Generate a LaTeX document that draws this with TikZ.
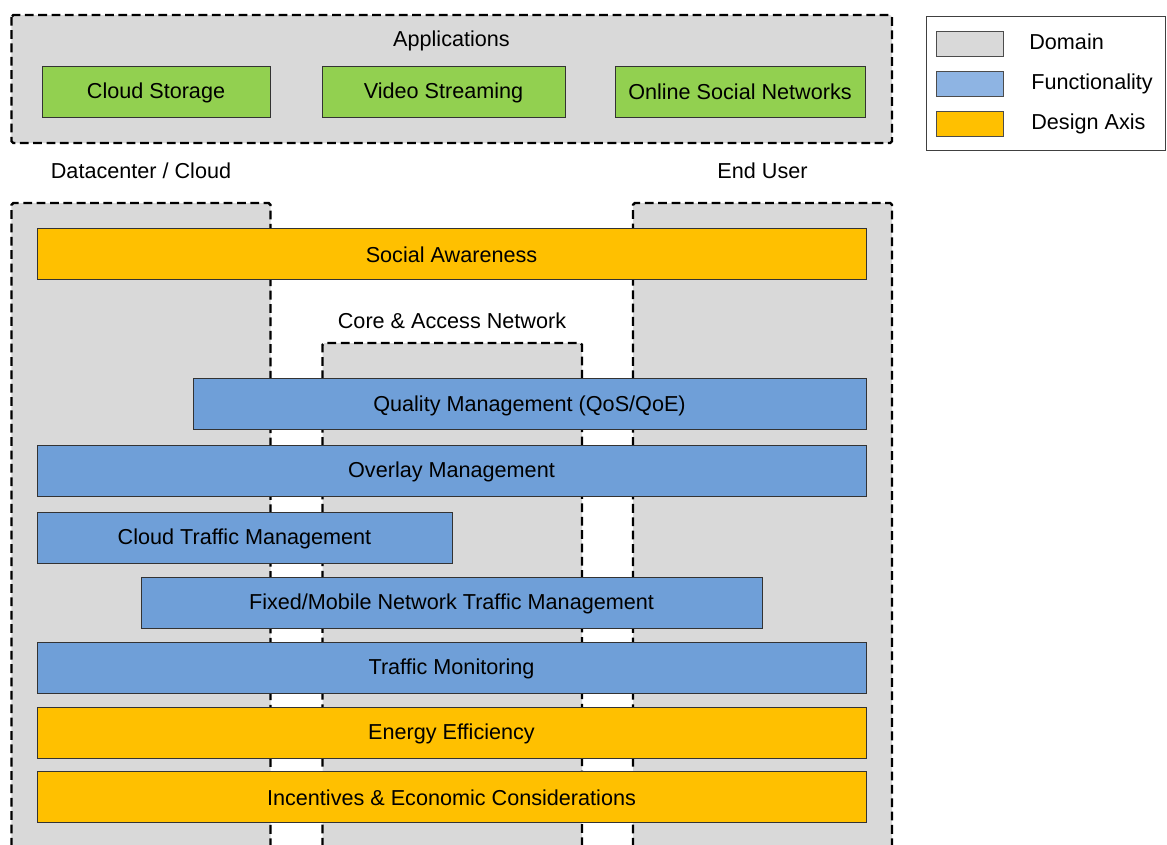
\documentclass[tikz,border=0pt]{standalone}
\usepackage{fontspec}
\setmainfont{Liberation Sans}
\usetikzlibrary{positioning}

\definecolor{domaingray}{HTML}{D9D9D9}
\definecolor{appgreen}{HTML}{92D050}
\definecolor{funcblue}{HTML}{6F9FD8}
\definecolor{legendblue}{HTML}{8EB4E3}
\definecolor{designorange}{HTML}{FFC000}

\begin{document}
\begin{tikzpicture}[scale=0.2,
  domainbox/.style={fill=domaingray, draw=black, line width=1.4pt, dash pattern=on 5pt off 2.6pt, rounded corners=1pt},
  appbox/.style={fill=appgreen, draw=black!80, line width=0.5pt},
  funcbar/.style={fill=funcblue, draw=black!80, line width=0.5pt},
  designbar/.style={fill=designorange, draw=black!80, line width=0.5pt},
  swatch/.style={draw=black!70, line width=0.5pt},
  font=\fontsize{12.3}{14}\selectfont]
\tikzstyle{every node}+=[inner sep=0pt]
\useasboundingbox (0,0) rectangle (116.7,-84.5);
% domains
\draw [domainbox] (1.15,-1.5) rectangle (89.2,-14.3);
\draw [domainbox] (1.15,-86) -- (1.15,-20.3) -- (27.05,-20.3) -- (27.05,-86);
\draw [domainbox] (63.3,-86) -- (63.3,-20.3) -- (89.2,-20.3) -- (89.2,-86);
\draw [domainbox] (32.25,-86) -- (32.25,-34.3) -- (58.2,-34.3) -- (58.2,-86);
\node (apps) at (45.15,-4.1) {Applications};
\node (cloud) at (14.1,-17.1) {Datacenter / Cloud};
\node (user) at (76.25,-17.1) {End User};
\node (core) at (45.2,-32.1) {Core \& Access Network};
% applications
\draw [appbox] (4.2,-6.6) rectangle (27.0,-11.7);
\node (storage) at (15.6,-9.3) {Cloud Storage};
\draw [appbox] (32.2,-6.6) rectangle (56.5,-11.7);
\node (video) at (44.35,-9.3) {Video Streaming};
\draw [appbox] (61.5,-6.6) rectangle (86.5,-11.7);
\node (osn) at (74.0,-9.2) {Online Social Networks};
% bars
\draw [designbar] (3.7,-22.8) rectangle (86.6,-27.9);
\node (social) at (45.15,-25.45) {Social Awareness};
\draw [funcbar] (19.3,-37.8) rectangle (86.6,-42.9);
\node (quality) at (52.95,-40.55) {Quality Management (QoS/QoE)};
\draw [funcbar] (3.7,-44.5) rectangle (86.6,-49.6);
\node (overlay) at (45.15,-47.2) {Overlay Management};
\draw [funcbar] (3.7,-51.2) rectangle (45.2,-56.3);
\node (cloudtm) at (24.45,-53.9) {Cloud Traffic Management};
\draw [funcbar] (14.1,-57.7) rectangle (76.2,-62.8);
\node (fixedtm) at (45.15,-60.4) {Fixed/Mobile Network Traffic Management};
\draw [funcbar] (3.7,-64.2) rectangle (86.6,-69.3);
\node (monitor) at (45.15,-66.85) {Traffic Monitoring};
\draw [designbar] (3.7,-70.7) rectangle (86.6,-75.8);
\node (energy) at (45.15,-73.35) {Energy Efficiency};
\draw [designbar] (3.7,-77.1) rectangle (86.6,-82.2);
\node (incent) at (45.15,-79.75) {Incentives \& Economic Considerations};
% legend
\draw [draw=black!75, line width=0.5pt] (92.6,-1.6) rectangle (116.5,-15.05);
\draw [swatch, fill=domaingray] (93.6,-3.1) rectangle (100.3,-5.6);
\node [anchor=west] (ldomain) at (102.9,-4.2) {Domain};
\draw [swatch, fill=legendblue] (93.6,-7.1) rectangle (100.3,-9.6);
\node [anchor=west] (lfunc) at (103.1,-8.35) {Functionality};
\draw [swatch, fill=designorange] (93.6,-11.1) rectangle (100.3,-13.6);
\node [anchor=west] (ldesign) at (103.1,-12.35) {Design Axis};
\end{tikzpicture}
\end{document}
